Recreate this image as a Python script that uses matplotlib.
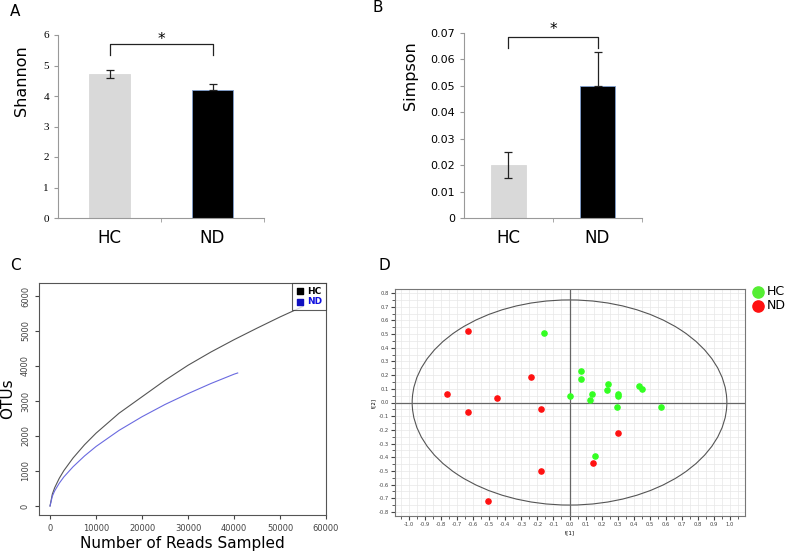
import numpy as np
import matplotlib
matplotlib.use("Agg")
import matplotlib.pyplot as plt
from matplotlib.patches import Ellipse
from matplotlib.ticker import MultipleLocator, FuncFormatter

# panel A / B: alpha diversity
groups = ["HC", "ND"]
shannon_mean = [4.72, 4.20]
shannon_err_lo = [0.12, 0.0]
shannon_err_hi = [0.12, 0.20]
simpson_mean = [0.020, 0.050]
simpson_err_lo = [0.005, 0.0]
simpson_err_hi = [0.005, 0.013]
bar_colors = ["#d9d9d9", "#000000"]

# panel C: rarefaction curves
reads_hc = [0, 500, 1000, 2000, 3000, 5000, 7500, 10000, 15000, 20000, 25000,
            30000, 35000, 40000, 45000, 50000, 55000]
otus_hc = [0, 340, 520, 790, 1010, 1370, 1750, 2080, 2650, 3120, 3590,
           4020, 4400, 4750, 5080, 5400, 5700]
reads_nd = [0, 500, 1000, 2000, 3000, 5000, 7500, 10000, 15000, 20000, 25000,
            30000, 35000, 40000, 40800]
otus_nd = [0, 280, 430, 650, 830, 1120, 1430, 1700, 2160, 2550, 2900,
           3210, 3500, 3765, 3800]

# panel D: score plot
hc_t1 = [-0.16, 0.07, 0.07, 0.24, 0.235, 0.43, 0.45, 0.305, 0.30, 0.14,
         0.0, 0.125, 0.295, 0.57, 0.16]
hc_t2 = [0.51, 0.23, 0.17, 0.135, 0.095, 0.12, 0.10, 0.065, 0.05, 0.06,
         0.05, 0.02, -0.03, -0.03, -0.39]
nd_t1 = [-0.63, -0.76, -0.45, -0.24, -0.63, -0.18, 0.305, 0.145, -0.18, -0.51]
nd_t2 = [0.525, 0.065, 0.03, 0.19, -0.07, -0.05, -0.225, -0.44, -0.50, -0.72]
ellipse_rx = 0.98
ellipse_ry = 0.75

W, H = 787, 554
fig = plt.figure(figsize=(W / 100, H / 100), dpi=100)


def px_axes(left, top, right, bottom):
    return fig.add_axes([left / W, 1 - bottom / H, (right - left) / W, (bottom - top) / H])


def bar_panel(ax, means, lo, hi, ylim, ystep, ylabel, bracket_y, drop, star_y, tickfont):
    x = np.arange(len(groups))
    ax.bar(x, means, width=0.4, color=bar_colors, edgecolor=["#d9d9d9", "#7f9fcf"], linewidth=0.6)
    for i in range(len(groups)):
        ax.errorbar(x[i], means[i], yerr=[[lo[i]], [hi[i]]], fmt="none",
                    ecolor="#222222", elinewidth=0.9, capsize=3, capthick=0.9)
    ax.set_xlim(-0.5, 1.5)
    ax.set_ylim(*ylim)
    ax.yaxis.set_major_locator(MultipleLocator(ystep))
    ax.set_xticks(x)
    ax.set_xticklabels(groups, fontsize=12)
    ax.set_xticks([0.5, 1.5], minor=True)
    ax.tick_params(axis="x", which="major", length=0, pad=8)
    ax.tick_params(axis="x", which="minor", length=3, color="#999999")
    ax.tick_params(axis="y", length=3, color="#999999", labelsize=8)
    for lab in ax.get_yticklabels():
        lab.set_family(tickfont)
    for s in ["top", "right"]:
        ax.spines[s].set_visible(False)
    for s in ["left", "bottom"]:
        ax.spines[s].set_color("#999999")
    ax.set_ylabel(ylabel, fontsize=11.5)
    ax.plot([0, 0, 1, 1], [bracket_y - drop, bracket_y, bracket_y, bracket_y - drop],
            color="#222222", lw=0.9, clip_on=False)
    ax.text(0.5, star_y, "*", ha="center", va="center", fontsize=11, clip_on=False)


# A
axA = px_axes(58, 35, 264, 218)
bar_panel(axA, shannon_mean, shannon_err_lo, shannon_err_hi, (0, 6), 1, "Shannon",
          5.7, 0.35, 5.86, "Liberation Serif")
axA.yaxis.set_label_coords(-0.14, 0.75)
fig.text(10 / W, 1 - 12 / H, "A", fontsize=11, va="center")

# B
axB = px_axes(464, 33, 642, 218)
bar_panel(axB, simpson_mean, simpson_err_lo, simpson_err_hi, (0, 0.07), 0.01, "Simpson",
          0.0685, 0.004, 0.0712, "DejaVu Sans")
axB.yaxis.set_major_formatter(FuncFormatter(lambda v, p: "0" if v == 0 else f"{v:.2f}"))
axB.yaxis.set_label_coords(-0.26, 0.77)
fig.text(373 / W, 1 - 8 / H, "B", fontsize=11, va="center")

# C
axC = px_axes(39, 283, 326, 515)
axC.plot(reads_hc, otus_hc, color="#555555", lw=0.8)
axC.plot(reads_nd, otus_nd, color="#6a6ae0", lw=0.8)
axC.set_xlim(-2400, 60000)
axC.set_ylim(-257, 6370)
axC.set_xticks(np.arange(0, 60001, 10000))
axC.set_yticks(np.arange(0, 6001, 1000))
axC.tick_params(labelsize=6, length=3, colors="#444444")
for lab in axC.get_yticklabels():
    lab.set_rotation(90)
    lab.set_va("center")
for s in axC.spines.values():
    s.set_color("#555555")
axC.set_xlabel("Number of Reads Sampled", fontsize=11, labelpad=2)
axC.set_ylabel("OTUs", fontsize=11, labelpad=4)
hc_h = axC.scatter([], [], marker="s", color="black", s=14)
nd_h = axC.scatter([], [], marker="s", color="#1010c0", s=14)
legC = axC.legend([hc_h, nd_h], ["HC", "ND"], loc="upper right", fontsize=6.5,
                  frameon=True, fancybox=False, borderaxespad=0.0, handletextpad=0.3,
                  borderpad=0.4, labelspacing=0.2, handlelength=1.0)
legC.get_frame().set_edgecolor("#333333")
legC.get_frame().set_linewidth(0.8)
legC.set_zorder(5)
for t, c in zip(legC.get_texts(), ["black", "#1010e0"]):
    t.set_color(c)
    t.set_fontweight("bold")
fig.text(10 / W, 1 - 265 / H, "C", fontsize=11, va="center")

# D
axD = px_axes(395, 289, 745, 516)
axD.set_xlim(-1.087, 1.093)
axD.set_ylim(-0.83, 0.83)
axD.xaxis.set_major_locator(MultipleLocator(0.1))
axD.yaxis.set_major_locator(MultipleLocator(0.1))
axD.xaxis.set_minor_locator(MultipleLocator(0.05))
axD.yaxis.set_minor_locator(MultipleLocator(0.05))
axD.grid(True, which="both", color="#e8e8e8", lw=0.5)
axD.set_axisbelow(True)
axD.axhline(0, color="#666666", lw=0.9)
axD.axvline(0, color="#666666", lw=0.9)
axD.add_patch(Ellipse((0, 0), 2 * ellipse_rx, 2 * ellipse_ry, fill=False,
                      edgecolor="#555555", lw=0.8))
axD.scatter(hc_t1, hc_t2, s=14, color="#33ff22", zorder=4)
axD.scatter(nd_t1, nd_t2, s=14, color="#ff1111", zorder=4)
axD.xaxis.set_major_formatter(FuncFormatter(lambda v, p: f"{v:.1f}".replace("-0.0", "0.0") if abs(v) <= 1.0001 else ""))
axD.yaxis.set_major_formatter(FuncFormatter(lambda v, p: f"{v:.1f}".replace("-0.0", "0.0")))
axD.tick_params(which="major", labelsize=3.8, length=3, colors="#444444", pad=1.5)
axD.tick_params(which="minor", length=2, colors="#444444")
for s in axD.spines.values():
    s.set_color("#777777")
axD.set_xlabel("t[1]", fontsize=4, labelpad=2)
axD.set_ylabel("t[2]", fontsize=4, labelpad=2)
hcD = axD.scatter([], [], s=65, color="#55ee33")
ndD = axD.scatter([], [], s=65, color="#ff1111")
legD = axD.legend([hcD, ndD], ["HC", "ND"], loc="upper left", bbox_to_anchor=(1.0, 1.04),
                  frameon=False, fontsize=9, handletextpad=0.1, labelspacing=0.1,
                  borderaxespad=0.0, handlelength=1.2)
fig.text(378 / W, 1 - 265 / H, "D", fontsize=11, va="center")

fig.savefig("out.png", dpi=100)
